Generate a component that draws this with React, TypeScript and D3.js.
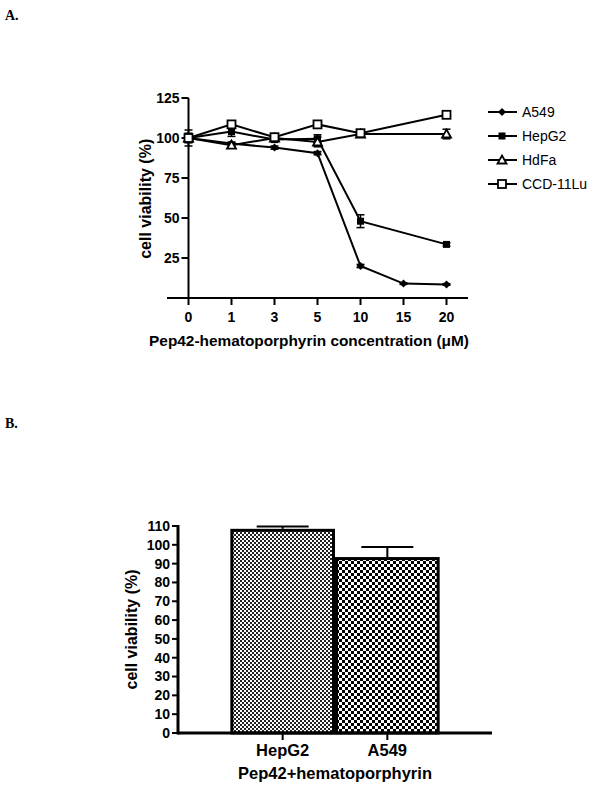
import React from "react";
import * as d3 from "d3";

const concentrations = ["0", "1", "3", "5", "10", "15", "20"];
const a549Values = [100, 96.5, 94, 90.5, 20, 9, 8.5];
const a549Err = [1, 1, 1, 1, 1, 0.5, 0.5];
const hepg2Values = [100, 104, 99, 99.5, 48, null, 33.5];
const hepg2Err = [5, 3, 1, 2.5, 4, null, 1];
const hdfaValues = [100, 95.5, 100, 97.5, 102.5, null, 102.5];
const hdfaErr = [3, 1.5, 1, 3, 1, null, 3];
const ccdValues = [100, 108.5, 100.5, 108.5, 103, null, 114.5];
const ccdErr = [1, 1.5, 1, 1.5, 1.5, null, 1];
const seriesNames = ["A549", "HepG2", "HdFa", "CCD-11Lu"];
const yTicksA = [25, 50, 75, 100, 125];

const barCategories = ["HepG2", "A549"];
const barValues = [108.5, 93.5];
const barErrors = [1.3, 5.3];
const yTicksB = [0, 10, 20, 30, 40, 50, 60, 70, 80, 90, 100, 110];

const FONT = "'Liberation Sans', Arial, sans-serif";

function Marker({ type, x, y }: { type: string; x: number; y: number }) {
  if (type === "A549") {
    const s = 4;
    return <path d={`M${x},${y - s}L${x + s},${y}L${x},${y + s}L${x - s},${y}Z`} fill="black" />;
  }
  if (type === "HepG2") {
    return <rect x={x - 3.5} y={y - 3.5} width={7} height={7} fill="black" />;
  }
  if (type === "HdFa") {
    return <path d={`M${x},${y - 4.5}L${x + 4.5},${y + 3.5}L${x - 4.5},${y + 3.5}Z`} fill="white" stroke="black" strokeWidth={1.8} />;
  }
  return <rect x={x - 4} y={y - 4} width={8} height={8} fill="white" stroke="black" strokeWidth={1.8} />;
}

export default function App() {
  // Chart A
  const xA = d3.scalePoint<string>().domain(concentrations).range([167, 468]).padding(0.5);
  const yA = d3.scaleLinear().domain([0, 125]).range([298, 98]);
  const axisXA = xA("0") as number;
  const series = [
    { name: seriesNames[0], values: a549Values, err: a549Err },
    { name: seriesNames[1], values: hepg2Values, err: hepg2Err },
    { name: seriesNames[2], values: hdfaValues, err: hdfaErr },
    { name: seriesNames[3], values: ccdValues, err: ccdErr },
  ];
  const line = d3
    .line<{ c: string; v: number }>()
    .x((d) => xA(d.c) as number)
    .y((d) => yA(d.v));

  // Chart B
  const xB = d3.scaleBand<string>().domain(barCategories).range([178, 492]).paddingOuter(0.5).paddingInner(0);
  const yB = d3.scaleLinear().domain([0, 110]).range([733, 526]);

  return (
    <svg width={602} height={790} style={{ position: "absolute", left: 0, top: 0 }} fontFamily={FONT}>
      <defs>
        <pattern id="fine" width={4} height={4} patternUnits="userSpaceOnUse">
          <rect width={4} height={4} fill="white" />
          <rect x={0} y={0} width={2} height={2} fill="#222" />
          <rect x={2} y={2} width={2} height={2} fill="#222" />
        </pattern>
        <pattern id="coarse" width={6} height={6} patternUnits="userSpaceOnUse">
          <rect width={6} height={6} fill="white" />
          <rect x={0} y={0} width={3} height={3} fill="black" />
          <rect x={3} y={3} width={3} height={3} fill="black" />
        </pattern>
      </defs>
      <rect width={602} height={790} fill="white" />
      <text x={5} y={20} fontFamily="'Liberation Serif', 'Times New Roman', serif" fontWeight="bold" fontSize={14}>A.</text>
      <text x={5} y={428} fontFamily="'Liberation Serif', 'Times New Roman', serif" fontWeight="bold" fontSize={14}>B.</text>

      {/* Chart A axes */}
      <g stroke="black" strokeWidth={2}>
        <line x1={167} x2={468} y1={298} y2={298} />
        <line x1={axisXA} x2={axisXA} y1={298} y2={yA(125)} />
        {yTicksA.map((t) => (
          <line key={t} x1={axisXA - 7} x2={axisXA} y1={yA(t)} y2={yA(t)} />
        ))}
        {concentrations.map((c) => (
          <line key={c} x1={xA(c) as number} x2={xA(c) as number} y1={298} y2={305} />
        ))}
      </g>
      {yTicksA.map((t) => (
        <text key={t} x={axisXA - 9} y={yA(t)} dy="0.35em" textAnchor="end" fontSize={14} fontWeight="bold">{t}</text>
      ))}
      {concentrations.map((c) => (
        <text key={c} x={xA(c) as number} y={322} textAnchor="middle" fontSize={14} fontWeight="bold">{c}</text>
      ))}
      <text x={309} y={346} textAnchor="middle" fontSize={15.4} fontWeight="bold">Pep42-hematoporphyrin concentration (μM)</text>
      <text transform={`translate(151,${yA(62)}) rotate(-90)`} textAnchor="middle" fontSize={16} fontWeight="bold">cell viability (%)</text>

      {/* Series */}
      {series.map((s) => {
        const pts = concentrations
          .map((c, i) => ({ c, v: s.values[i] as number, e: s.err[i] as number }))
          .filter((d) => d.v !== null && d.v !== undefined);
        return (
          <g key={s.name}>
            <path d={line(pts) || ""} fill="none" stroke="black" strokeWidth={2} />
            {pts.map((d) => {
              const x = xA(d.c) as number;
              return (
                <g key={d.c} stroke="black" strokeWidth={1.5}>
                  <line x1={x} x2={x} y1={yA(d.v - d.e)} y2={yA(d.v + d.e)} />
                  <line x1={x - 4} x2={x + 4} y1={yA(d.v - d.e)} y2={yA(d.v - d.e)} />
                  <line x1={x - 4} x2={x + 4} y1={yA(d.v + d.e)} y2={yA(d.v + d.e)} />
                </g>
              );
            })}
          </g>
        );
      })}
      {series.map((s) =>
        concentrations.map((c, i) =>
          s.values[i] === null ? null : <Marker key={s.name + c} type={s.name} x={xA(c) as number} y={yA(s.values[i] as number)} />
        )
      )}

      {/* Legend */}
      {seriesNames.map((n, i) => {
        const y = 112 + i * 24;
        return (
          <g key={n}>
            <line x1={488} x2={517} y1={y} y2={y} stroke="black" strokeWidth={2} />
            <Marker type={n} x={502} y={y} />
            <text x={522} y={y} dy="0.35em" fontSize={14}>{n}</text>
          </g>
        );
      })}

      {/* Chart B */}
      {barCategories.map((c, i) => {
        const x = xB(c) as number;
        const w = xB.bandwidth();
        const cx = x + w / 2;
        const top = yB(barValues[i] + barErrors[i]);
        return (
          <g key={c}>
            <line x1={cx} x2={cx} y1={yB(barValues[i])} y2={top} stroke="black" strokeWidth={2} />
            <line x1={cx - 26} x2={cx + 26} y1={top} y2={top} stroke="black" strokeWidth={2} />
            <rect x={x + 1.5} y={yB(barValues[i]) + 1.5} width={w - 3} height={733 - yB(barValues[i]) - 1.5} fill={i === 0 ? "url(#fine)" : "url(#coarse)"} stroke="black" strokeWidth={3} />
          </g>
        );
      })}
      <g stroke="black" strokeWidth={3}>
        <line x1={178} x2={492} y1={733} y2={733} />
        <line x1={178} x2={178} y1={734.5} y2={yB(110) - 1} />
      </g>
      <g stroke="black" strokeWidth={2}>
        {yTicksB.map((t) => (
          <line key={t} x1={172} x2={178} y1={yB(t)} y2={yB(t)} />
        ))}
        {barCategories.map((c) => {
          const cx = (xB(c) as number) + xB.bandwidth() / 2;
          return <line key={c} x1={cx} x2={cx} y1={733} y2={740} />;
        })}
      </g>
      {yTicksB.map((t) => (
        <text key={t} x={170} y={yB(t)} dy="0.35em" textAnchor="end" fontSize={14} fontWeight="bold">{t}</text>
      ))}
      {barCategories.map((c) => (
        <text key={c} x={(xB(c) as number) + xB.bandwidth() / 2} y={756} textAnchor="middle" fontSize={16.5} fontWeight="bold">{c}</text>
      ))}
      <text x={335} y={779} textAnchor="middle" fontSize={16.5} fontWeight="bold">Pep42+hematoporphyrin</text>
      <text transform={`translate(137,${yB(55)}) rotate(-90)`} textAnchor="middle" fontSize={16} fontWeight="bold">cell viability (%)</text>
    </svg>
  );
}
